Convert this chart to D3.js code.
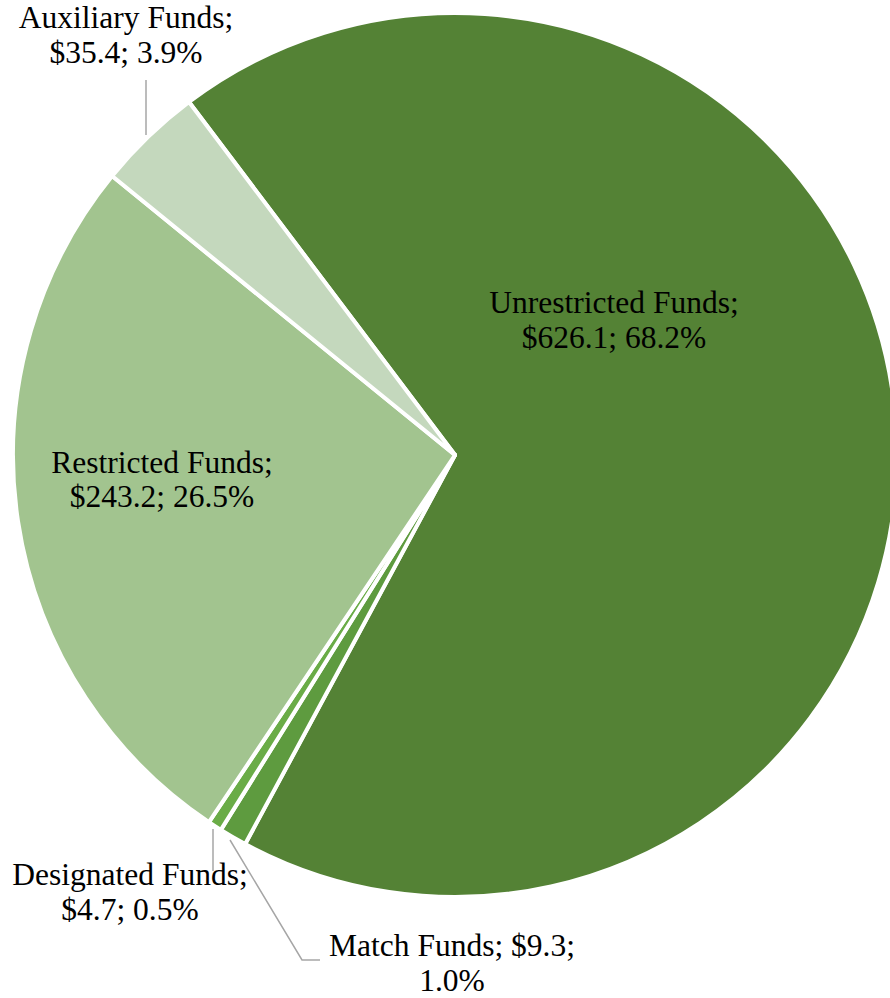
<!DOCTYPE html>
<html>
<head>
<meta charset="utf-8">
<script src="https://cdn.jsdelivr.net/npm/d3@7"></script>
<style>
  html, body { margin: 0; padding: 0; background: #fff; }
  svg { display: block; }
  text { font-family: "Liberation Serif", "Times New Roman", serif; fill: #000; }
</style>
</head>
<body>
<svg id="chart" width="890" height="998"></svg>
<script>
// Fund sources (millions of dollars), drawn clockwise
const categories = ["Unrestricted Funds", "Match Funds", "Designated Funds", "Restricted Funds", "Auxiliary Funds"];
const amounts = [626.1, 9.3, 4.7, 243.2, 35.4];
const percentLabels = ["68.2%", "1.0%", "0.5%", "26.5%", "3.9%"];
const amountLabels = ["$626.1", "$9.3", "$4.7", "$243.2", "$35.4"];
const colors = ["#548235", "#5E9B3F", "#6AAC47", "#A2C48F", "#C4D8BD"];

const W = 890, H = 998;
const cx = 455, cy = 455, R = 442;

const svg = d3.select("#chart");
const g = svg.append("g").attr("transform", `translate(${cx},${cy})`);

const data = categories.map((c, i) => ({ name: c, value: amounts[i], i }));

const start = -37 * Math.PI / 180;
const pie = d3.pie()
  .value(d => d.value)
  .sort(null)
  .startAngle(start)
  .endAngle(start + 2 * Math.PI);

const arc = d3.arc().innerRadius(0).outerRadius(R);
const arcs = pie(data);

g.selectAll("path.slice")
  .data(arcs)
  .join("path")
  .attr("class", "slice")
  .attr("d", arc)
  .attr("fill", d => colors[d.data.i])
  .attr("stroke", "#fff")
  .attr("stroke-width", 4)
  .attr("stroke-linejoin", "round");

// Label blocks: anchor (first baseline), line step and text lines
const labelLayout = [
  { x: 614, y: 313, step: 35, lines: [`${categories[0]};`, `${amountLabels[0]}; ${percentLabels[0]}`] },
  { x: 452, y: 956, step: 35, lines: [`${categories[1]}; ${amountLabels[1]};`, `${percentLabels[1]}`] },
  { x: 130, y: 885, step: 35, lines: [`${categories[2]};`, `${amountLabels[2]}; ${percentLabels[2]}`] },
  { x: 162, y: 473, step: 34, lines: [`${categories[3]};`, `${amountLabels[3]}; ${percentLabels[3]}`] },
  { x: 126, y: 28,  step: 35, lines: [`${categories[4]};`, `${amountLabels[4]}; ${percentLabels[4]}`] }
];

// Leader lines joining the outside labels to their slices
const leaderColor = "#A6A6A6";
const leaders = [
  [[146, 135], [146, 80]],
  [[213, 829], [213, 871]],
  [[230, 840], [302, 960], [320, 960]]
];
leaders.forEach(pts => {
  svg.append("path")
    .attr("d", d3.line()(pts))
    .attr("fill", "none")
    .attr("stroke", leaderColor)
    .attr("stroke-width", 1.5);
});

labelLayout.forEach(lb => {
  const t = svg.append("text")
    .attr("x", lb.x)
    .attr("y", lb.y)
    .attr("text-anchor", "middle")
    .attr("font-size", 31.5);
  lb.lines.forEach((s, k) => {
    t.append("tspan").attr("x", lb.x).attr("y", lb.y + k * lb.step).text(s);
  });
});
</script>
</body>
</html>
